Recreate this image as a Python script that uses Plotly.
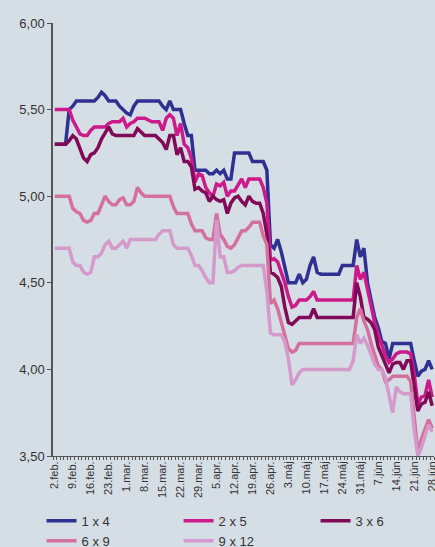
import plotly.graph_objects as go

# ---- data ----
tick_labels = ["2.feb.", "9.feb.", "16.feb.", "23.feb.", "1.mar.", "8.mar.", "15.mar.",
               "22.mar.", "29.mar.", "5.apr.", "12.apr.", "19.apr.", "26.apr.", "3.máj",
               "10.máj", "17.máj", "24.máj", "31.máj", "7.jún", "14.jún", "21.jún", "28.jún"]
n_days = 106
days = list(range(n_days))

series_names = ["1 x 4", "2 x 5", "3 x 6", "6 x 9", "9 x 12"]

s_1x4 = [5.30, 5.30, 5.30, 5.30, 5.50, 5.52, 5.55, 5.55, 5.55, 5.55,
         5.55, 5.55, 5.57, 5.60, 5.58, 5.55, 5.55, 5.55, 5.52, 5.50,
         5.48, 5.47, 5.52, 5.55, 5.55, 5.55, 5.55, 5.55, 5.55, 5.55,
         5.52, 5.50, 5.55, 5.50, 5.50, 5.50, 5.42, 5.35, 5.35, 5.15,
         5.15, 5.15, 5.15, 5.13, 5.13, 5.15, 5.13, 5.15, 5.10, 5.10,
         5.25, 5.25, 5.25, 5.25, 5.25, 5.20, 5.20, 5.20, 5.20, 5.15,
         4.72, 4.70, 4.75, 4.68, 4.58, 4.50, 4.50, 4.50, 4.55, 4.50,
         4.52, 4.60, 4.65, 4.56, 4.55, 4.55, 4.55, 4.55, 4.55, 4.55,
         4.60, 4.60, 4.60, 4.60, 4.75, 4.65, 4.70, 4.50, 4.40, 4.30,
         4.24, 4.16, 4.15, 4.06, 4.15, 4.15, 4.15, 4.15, 4.15, 4.15,
         4.05, 3.96, 3.99, 4.00, 4.05, 4.00]

s_2x5 = [5.50, 5.50, 5.50, 5.50, 5.50, 5.44, 5.40, 5.36, 5.35, 5.35,
         5.38, 5.40, 5.40, 5.40, 5.40, 5.42, 5.43, 5.43, 5.43, 5.45,
         5.40, 5.42, 5.43, 5.45, 5.45, 5.45, 5.44, 5.43, 5.43, 5.43,
         5.38, 5.45, 5.47, 5.45, 5.35, 5.42, 5.30, 5.28, 5.22, 5.08,
         5.13, 5.12, 5.05, 5.02, 5.00, 5.07, 5.06, 5.08, 5.00, 5.03,
         5.03, 5.07, 5.10, 5.05, 5.10, 5.10, 5.10, 5.10, 5.05, 4.96,
         4.63, 4.64, 4.62, 4.56, 4.50, 4.42, 4.36, 4.37, 4.40, 4.40,
         4.40, 4.42, 4.45, 4.40, 4.40, 4.40, 4.40, 4.40, 4.40, 4.40,
         4.40, 4.40, 4.40, 4.40, 4.60, 4.52, 4.56, 4.46, 4.36, 4.27,
         4.20, 4.14, 4.08, 4.04, 4.06, 4.09, 4.10, 4.10, 4.10, 4.09,
         3.97, 3.80, 3.84, 3.85, 3.94, 3.84]

s_3x6 = [5.30, 5.30, 5.30, 5.30, 5.32, 5.35, 5.33, 5.28, 5.22, 5.20,
         5.24, 5.25, 5.28, 5.33, 5.37, 5.40, 5.36, 5.35, 5.35, 5.35,
         5.35, 5.35, 5.35, 5.39, 5.37, 5.35, 5.35, 5.35, 5.35, 5.33,
         5.31, 5.27, 5.35, 5.35, 5.24, 5.28, 5.20, 5.20, 5.17, 5.04,
         5.05, 5.03, 5.02, 4.97, 5.00, 4.98, 4.97, 4.98, 4.90, 4.96,
         4.99, 5.00, 4.97, 4.95, 5.00, 4.97, 4.96, 4.96, 4.90, 4.78,
         4.56, 4.55, 4.53, 4.48, 4.36, 4.27, 4.26, 4.28, 4.30, 4.30,
         4.30, 4.30, 4.35, 4.30, 4.30, 4.30, 4.30, 4.30, 4.30, 4.30,
         4.30, 4.30, 4.30, 4.30, 4.50, 4.42, 4.30, 4.29, 4.27, 4.23,
         4.13, 4.08, 4.04, 3.98, 4.03, 4.04, 4.04, 4.00, 4.05, 4.05,
         3.90, 3.76, 3.80, 3.81, 3.87, 3.79]

s_6x9 = [5.00, 5.00, 5.00, 5.00, 5.00, 4.93, 4.91, 4.90, 4.86, 4.85,
         4.86, 4.90, 4.90, 4.95, 5.00, 4.97, 4.95, 4.95, 4.98, 4.99,
         4.95, 4.95, 4.97, 5.05, 5.02, 5.00, 5.00, 5.00, 5.00, 5.00,
         5.00, 5.00, 5.00, 4.94, 4.90, 4.90, 4.90, 4.90, 4.84, 4.80,
         4.80, 4.80, 4.76, 4.75, 4.75, 4.90, 4.78, 4.75, 4.71, 4.70,
         4.72, 4.76, 4.80, 4.80, 4.82, 4.85, 4.85, 4.85, 4.77, 4.72,
         4.38, 4.40, 4.35, 4.27, 4.19, 4.12, 4.10, 4.11, 4.15, 4.15,
         4.15, 4.15, 4.15, 4.15, 4.15, 4.15, 4.15, 4.15, 4.15, 4.15,
         4.15, 4.15, 4.15, 4.15, 4.30, 4.35, 4.28, 4.23, 4.15, 4.08,
         4.02, 4.00, 3.93, 3.94, 3.96, 3.96, 3.96, 3.96, 3.96, 3.93,
         3.70, 3.52, 3.60, 3.65, 3.71, 3.66]

s_9x12 = [4.70, 4.70, 4.70, 4.70, 4.70, 4.62, 4.60, 4.60, 4.56, 4.55,
          4.56, 4.65, 4.65, 4.67, 4.72, 4.74, 4.70, 4.70, 4.72, 4.74,
          4.70, 4.75, 4.75, 4.75, 4.75, 4.75, 4.75, 4.75, 4.75, 4.78,
          4.80, 4.80, 4.80, 4.72, 4.70, 4.70, 4.70, 4.70, 4.66, 4.60,
          4.60, 4.57, 4.53, 4.50, 4.50, 4.86, 4.65, 4.65, 4.56, 4.56,
          4.57, 4.59, 4.60, 4.60, 4.60, 4.60, 4.60, 4.60, 4.60, 4.45,
          4.21, 4.20, 4.20, 4.20, 4.16, 4.06, 3.91, 3.94, 3.98, 4.00,
          4.00, 4.00, 4.00, 4.00, 4.00, 4.00, 4.00, 4.00, 4.00, 4.00,
          4.00, 4.00, 4.00, 4.05, 4.20, 4.15, 4.18, 4.14, 4.08, 4.03,
          4.00, 4.00, 3.95, 3.85, 3.75, 3.90, 3.87, 3.86, 3.86, 3.86,
          3.65, 3.50, 3.55, 3.62, 3.68, 3.64]

y_ticks = [3.50, 4.00, 4.50, 5.00, 5.50, 6.00]

# ---- style ----
colors = ["#2E3192", "#CC1A8A", "#800A58", "#D4709E", "#D49ACB"]
series = [s_1x4, s_2x5, s_3x6, s_6x9, s_9x12]
bg = "#D6DEE5"
font_family = "Arial, Liberation Sans, sans-serif"

fig = go.Figure()
for name, vals, col in zip(series_names, series, colors):
    fig.add_trace(go.Scatter(
        x=days, y=vals, name=name, mode="lines",
        line=dict(color=col, width=3.5),
    ))

fig.update_layout(
    width=435, height=547,
    paper_bgcolor=bg, plot_bgcolor=bg,
    separators=", ",
    margin=dict(l=53, r=1, t=23, b=91, autoexpand=False),
    font=dict(family=font_family, color="#333333"),
    showlegend=True,
    legend=dict(
        orientation="h", x=-0.03, xanchor="left", y=-0.115, yanchor="top",
        entrywidth=92, entrywidthmode="pixels",
        font=dict(size=13, color="#333333"),
        bgcolor="rgba(0,0,0,0)", itemwidth=30, tracegroupgap=0,
    ),
)

fig.update_xaxes(
    range=[-0.5, n_days - 0.5],
    tickmode="array", tickvals=days[::5], ticktext=tick_labels,
    tickangle=-90, tickfont=dict(size=11, color="#333333"),
    ticklabeloverflow="allow",
    ticks="", showline=True, linecolor="#555555", linewidth=1,
    showgrid=False, zeroline=False,
    minor=dict(ticks="outside", tick0=-0.5, dtick=1, ticklen=3,
               tickcolor="#555555", tickwidth=1, showgrid=False),
)

fig.update_yaxes(
    range=[3.5, 6.0],
    tickmode="array", tickvals=y_ticks, tickformat=".2f",
    ticks="outside", ticklen=4, tickcolor="#555555",
    tickfont=dict(size=13, color="#333333"),
    showline=True, linecolor="#555555", linewidth=1.5,
    showgrid=False, zeroline=False,
)

fig.write_html(
    "out.html",
    config={"displayModeBar": False},
    post_script="document.body.style.margin='0';document.body.style.padding='0';"
                "document.body.style.background='" + bg + "';",
)
